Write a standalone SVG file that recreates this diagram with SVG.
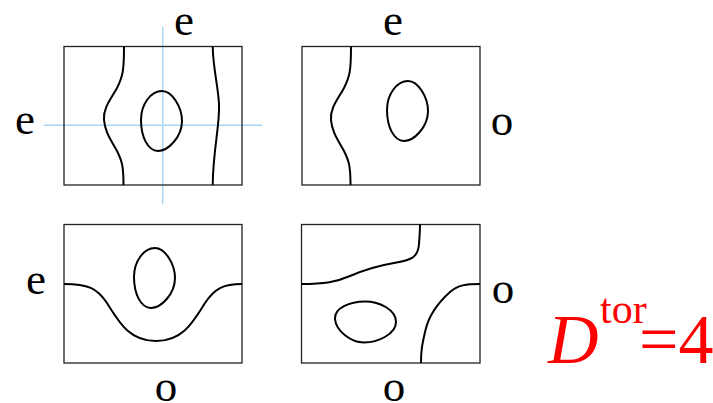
<svg xmlns="http://www.w3.org/2000/svg" width="713" height="403" viewBox="0 0 713 403">
<style>
.box{fill:none;stroke:#222;stroke-width:1.3}
.cur{fill:none;stroke:#000;stroke-width:2}
.axis{fill:none;stroke:#a9d5f2;stroke-width:1.4}
.lbl{font-family:"Liberation Serif","Times New Roman",serif;font-size:45px;fill:#000;text-anchor:middle}
.red{font-family:"Liberation Serif","Times New Roman",serif;fill:#ff0000}
</style>
<rect width="713" height="403" fill="#fff"/>
<g id="axes">
<line class="axis" x1="162.7" y1="27" x2="162.7" y2="204"/>
<line class="axis" x1="44" y1="125.3" x2="262" y2="125.3"/>
</g>
<g id="panel1">
<rect class="box" x="64" y="46.5" width="178" height="138.5"/>
<path class="cur" d="M124,46.5 C124,70 123,76 117,88 C111,99 103,108 104,120 C105,132 111,140 117,151 C122,161 123.5,166 123.5,185"/>
<path class="cur" d="M212.7,46.5 C213,68 218,85 219,104 C220,125 213,150 212.7,185"/>
<path id="oval" class="cur" d="M162,91 C172,91 182,107 182,121 C182,137 168,151 158,151 C148,151 141,137 141,120 C141,104 151,91 162,91 Z"/>
</g>
<g id="panel2">
<rect class="box" x="302" y="46.5" width="178" height="138.5"/>
<path class="cur" d="M351,46.5 C351,70 350,76 344,88 C338,99 330,108 331,120 C332,132 338,140 344,151 C349,161 350.5,166 350.5,185"/>
<use href="#oval" transform="translate(246,-10)"/>
</g>
<g id="panel3">
<rect class="box" x="64" y="224.5" width="178" height="138.5"/>
<path class="cur" d="M64,284 C88,284 97,288 107,303 C119,322 129,341 156,341 C183,341 193,322 205,303 C215,288 224,284 242,284"/>
<use href="#oval" transform="translate(-7,157)"/>
</g>
<g id="panel4">
<rect class="box" x="301.5" y="224.5" width="178.5" height="138.5"/>
<path class="cur" d="M301.5,284 C325,284 336,282 350,276 C364,270 376,266 394,263 C411,260 418,258 419,244 C419.6,236 420,230 420,224.5"/>
<path class="cur" d="M480,284 C466,284 458,285 450,292 C440,301 429,315 425.5,330 C422,345 421,350 421,363"/>
<path class="cur" d="M365,301.5 C380,301.5 396,310 396,322 C396,334 378,342.5 364,342.5 C351,342.5 336,331 335,319 C334,308 350,301.5 365,301.5 Z"/>
</g>
<g id="labels">
<text class="lbl" x="184" y="35">e</text>
<text class="lbl" x="25" y="134">e</text>
<text class="lbl" x="393" y="35">e</text>
<text class="lbl" x="502" y="135">o</text>
<text class="lbl" x="36" y="294">e</text>
<text class="lbl" x="503" y="303">o</text>
<text class="lbl" x="166" y="401">o</text>
<text class="lbl" x="394" y="401">o</text>
</g>
<g id="formula">
<text class="red" x="548" y="363" font-size="70" font-style="italic">D</text>
<text class="red" x="600" y="323" font-size="42">tor</text>
<text class="red" x="639" y="363" font-size="70">=4</text>
</g>
</svg>
